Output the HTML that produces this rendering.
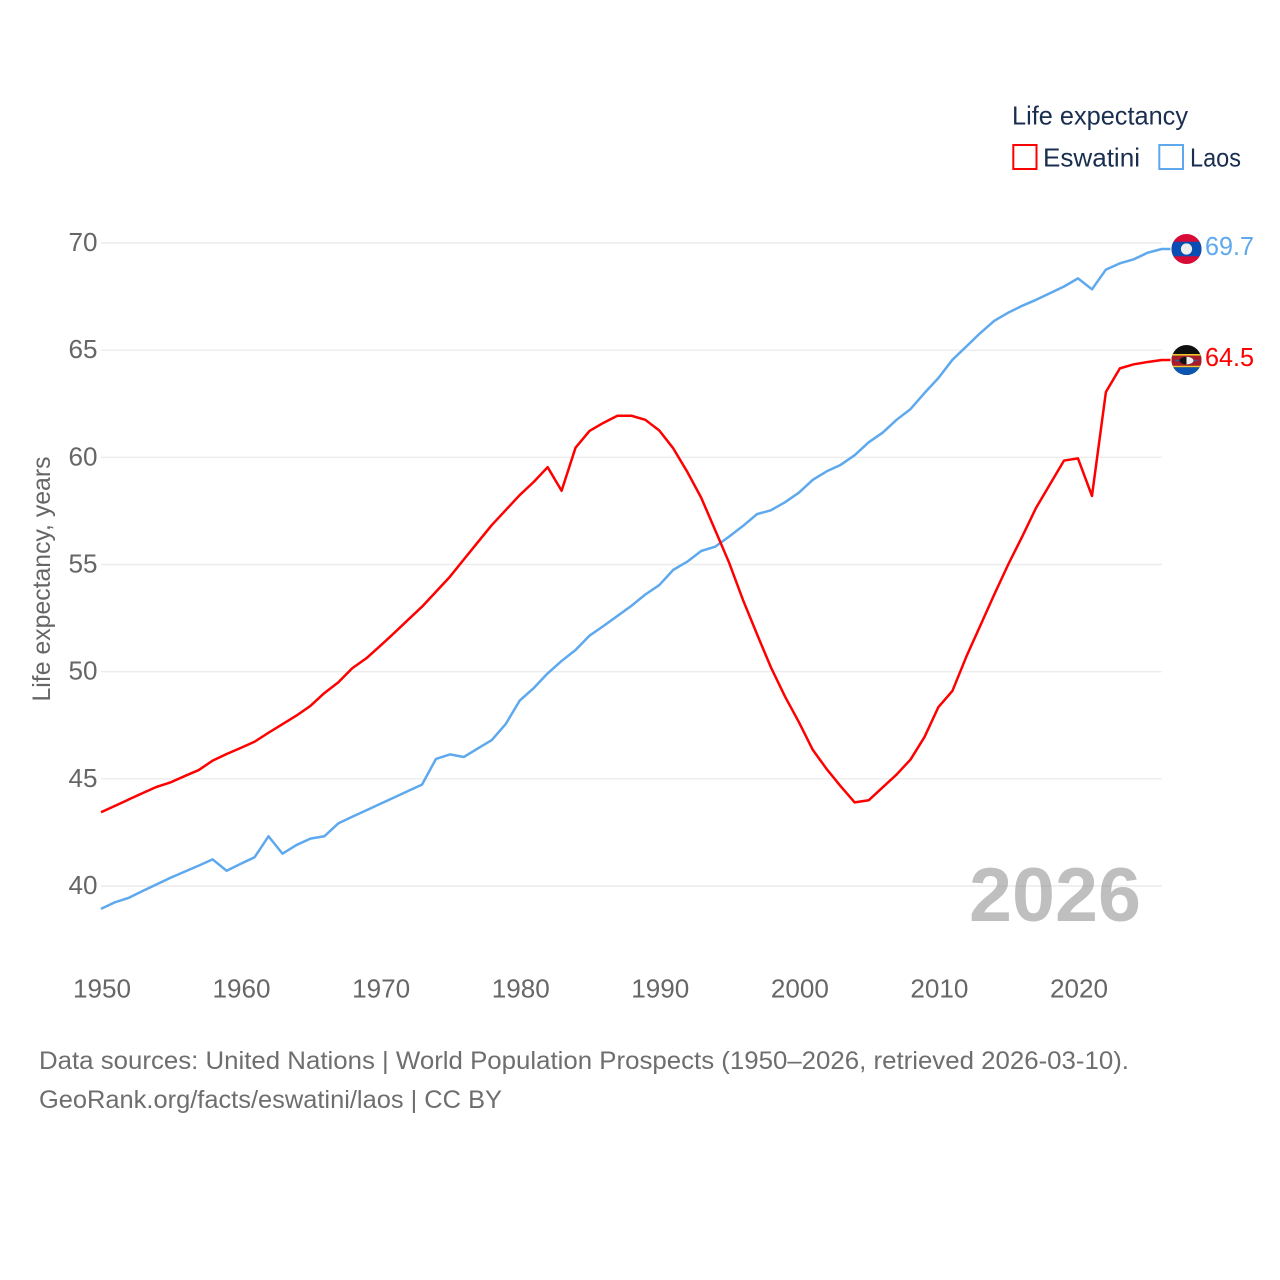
<!DOCTYPE html>
<html lang="en">
<head>
<meta charset="utf-8">
<title>Life expectancy: Eswatini and Laos</title>
<style>
html,body{margin:0;padding:0;background:#fff;}
svg{display:block;font-family:"Liberation Sans",sans-serif;}
</style>
</head>
<body>
<svg id="chart" xmlns="http://www.w3.org/2000/svg" width="1280" height="1280" viewBox="0 0 1280 1280">
  <defs>
    <clipPath id="flag-clip-laos"><circle cx="0" cy="0" r="15"/></clipPath>
    <clipPath id="flag-clip-eswatini"><circle cx="0" cy="0" r="15"/></clipPath>
  </defs>
  <rect x="0" y="0" width="1280" height="1280" fill="#ffffff"/>
  <g id="grid"></g>
  <g id="yticks"></g>
  <g id="xticks"></g>
  <text x="50" y="579" transform="rotate(-90 50 579)" text-anchor="middle" font-size="25" fill="#666666" textLength="245" lengthAdjust="spacingAndGlyphs">Life expectancy, years</text>
  <text x="1141" y="921" text-anchor="end" font-size="76" font-weight="700" fill="#808080" fill-opacity="0.5" textLength="172" lengthAdjust="spacingAndGlyphs">2026</text>
  <g id="series"></g>
  <g id="flag-laos">
    <g clip-path="url(#flag-clip-laos)">
      <rect x="-15" y="-15" width="30" height="30" fill="#d80a36"/>
      <rect x="-15" y="-7.3" width="30" height="14.6" fill="#0a4eb4"/>
      <circle cx="0" cy="0" r="5.6" fill="#eeeeee"/>
    </g>
  </g>
  <g id="flag-eswatini">
    <g clip-path="url(#flag-clip-eswatini)">
      <rect x="-15" y="-15" width="30" height="30" fill="#0f0f0f"/>
      <rect x="-15" y="-6" width="30" height="1.7" fill="#f6c930"/>
      <rect x="-15" y="-4.3" width="30" height="10" fill="#a81c2c"/>
      <rect x="-15" y="5.7" width="30" height="1.6" fill="#f6c930"/>
      <rect x="-15" y="7.3" width="30" height="8" fill="#0a55b0"/>
      <rect x="-11" y="-0.2" width="22" height="1.4" fill="#2a5f9e"/>
      <ellipse cx="0" cy="0.5" rx="7" ry="3.8" fill="#111111"/>
      <path d="M0,-3.3 A7,3.8 0 0 1 0,4.3 Z" fill="#eeeeee"/>
    </g>
  </g>
  <g id="value-labels"></g>

  <g>
    <text x="1012" y="124.5" font-size="26" fill="#1a2e4f" textLength="176" lengthAdjust="spacingAndGlyphs">Life expectancy</text>
    <g>
      <rect x="1013.3" y="145" width="23.2" height="24" fill="#ffffff" stroke="#ff0000" stroke-width="2"/>
      <text x="1043" y="166.7" font-size="26" fill="#1a2e4f" textLength="97" lengthAdjust="spacingAndGlyphs">Eswatini</text>
    </g>
    <g>
      <rect x="1159.3" y="145" width="23.7" height="24" fill="#ffffff" stroke="#5ea9ee" stroke-width="2"/>
      <text x="1190" y="166.7" font-size="26" fill="#1a2e4f" textLength="51" lengthAdjust="spacingAndGlyphs">Laos</text>
    </g>
  </g>

  <g>
    <text x="39" y="1069" font-size="25" fill="#6e6e6e" textLength="1090" lengthAdjust="spacingAndGlyphs">Data sources: United Nations | World Population Prospects (1950–2026, retrieved 2026-03-10).</text>
    <text x="39" y="1108" font-size="25" fill="#6e6e6e" textLength="463" lengthAdjust="spacingAndGlyphs">GeoRank.org/facts/eswatini/laos | CC BY</text>
  </g>
</svg>
<script>
const startYear = 1950;
const xTickLabels = [1950, 1960, 1970, 1980, 1990, 2000, 2010, 2020];
const yTickLabels = [40, 45, 50, 55, 60, 65, 70];
const eswatiniValues = [43.44,43.74,44.04,44.34,44.63,44.84,45.13,45.41,45.85,46.16,46.44,46.73,47.15,47.55,47.95,48.4,49.0,49.5,50.16,50.62,51.2,51.8,52.42,53.03,53.73,54.43,55.24,56.04,56.84,57.54,58.24,58.85,59.54,58.44,60.45,61.23,61.61,61.94,61.94,61.75,61.25,60.42,59.33,58.12,56.61,55.09,53.34,51.75,50.2,48.85,47.65,46.35,45.45,44.65,43.9,44.0,44.6,45.2,45.9,46.95,48.35,49.1,50.7,52.15,53.6,55.0,56.3,57.65,58.75,59.85,59.95,58.2,63.05,64.15,64.34,64.45,64.54];
const laosValues = [38.93,39.24,39.45,39.77,40.08,40.39,40.67,40.95,41.24,40.71,41.03,41.34,42.32,41.51,41.91,42.21,42.32,42.92,43.23,43.53,43.83,44.13,44.43,44.73,45.93,46.14,46.02,46.42,46.81,47.56,48.65,49.23,49.92,50.5,51.01,51.68,52.13,52.6,53.07,53.6,54.04,54.75,55.13,55.63,55.83,56.3,56.8,57.35,57.53,57.9,58.35,58.95,59.35,59.65,60.1,60.7,61.15,61.75,62.25,63.0,63.7,64.55,65.17,65.8,66.37,66.75,67.07,67.35,67.66,67.97,68.35,67.84,68.76,69.05,69.24,69.55,69.72];

const NS = 'http://www.w3.org/2000/svg';
const xScale = function (year) { return 101 + (year - 1950) * (1078 - 101) / 70; };
const yScale = function (v) { return 886 - (v - 40) * (886 - 243) / 30; };
const plotRight = xScale(startYear + eswatiniValues.length - 1);
const flagX = 1186.5;

function make(tag, parent) {
  const el = document.createElementNS(NS, tag);
  document.getElementById(parent).appendChild(el);
  return el;
}

yTickLabels.forEach(function (t) {
  const line = make('line', 'grid');
  
  
  line.setAttribute('x1', xScale(1950));
  line.setAttribute('x2', plotRight);
  line.setAttribute('y1', yScale(t));
  line.setAttribute('y2', yScale(t));
  line.setAttribute('stroke', '#ececec');
  line.setAttribute('stroke-width', '1.4');
  const label = make('text', 'yticks');
  
  
  label.setAttribute('x', 97.5);
  label.setAttribute('y', yScale(t) + 8);
  label.setAttribute('text-anchor', 'end');
  label.setAttribute('font-size', '26');
  label.setAttribute('fill', '#666666');
  label.setAttribute('textLength', '29');
  label.setAttribute('lengthAdjust', 'spacingAndGlyphs');
  label.textContent = t;
});

xTickLabels.forEach(function (t) {
  const label = make('text', 'xticks');
  
  
  label.setAttribute('x', xScale(t) + 1);
  label.setAttribute('y', 997.5);
  label.setAttribute('text-anchor', 'middle');
  label.setAttribute('font-size', '26');
  label.setAttribute('fill', '#666666');
  label.setAttribute('textLength', '58');
  label.setAttribute('lengthAdjust', 'spacingAndGlyphs');
  label.textContent = t;
});

function drawSeries(values, color, name) {
  const pts = values.map(function (v, i) {
    return xScale(startYear + i).toFixed(2) + ',' + yScale(v).toFixed(2);
  });
  const last = yScale(values[values.length - 1]);
  pts.push((flagX - 16) + ',' + last.toFixed(2));
  const line = make('polyline', 'series');
  
  
  line.setAttribute('points', pts.join(' '));
  line.setAttribute('fill', 'none');
  line.setAttribute('stroke', color);
  line.setAttribute('stroke-width', '2.5');
  line.setAttribute('stroke-linejoin', 'round');
  document.getElementById('flag-' + name).setAttribute('transform', 'translate(' + flagX + ' ' + last.toFixed(2) + ')');
  const label = make('text', 'value-labels');
  
  
  label.setAttribute('x', 1205);
  label.setAttribute('y', last + 6);
  label.setAttribute('font-size', '26');
  label.setAttribute('fill', color);
  label.setAttribute('textLength', '49');
  label.setAttribute('lengthAdjust', 'spacingAndGlyphs');
  label.textContent = values[values.length - 1].toFixed(1);
}

drawSeries(laosValues, '#5ea9ee', 'laos');
drawSeries(eswatiniValues, '#ff0000', 'eswatini');
</script>
</body>
</html>
